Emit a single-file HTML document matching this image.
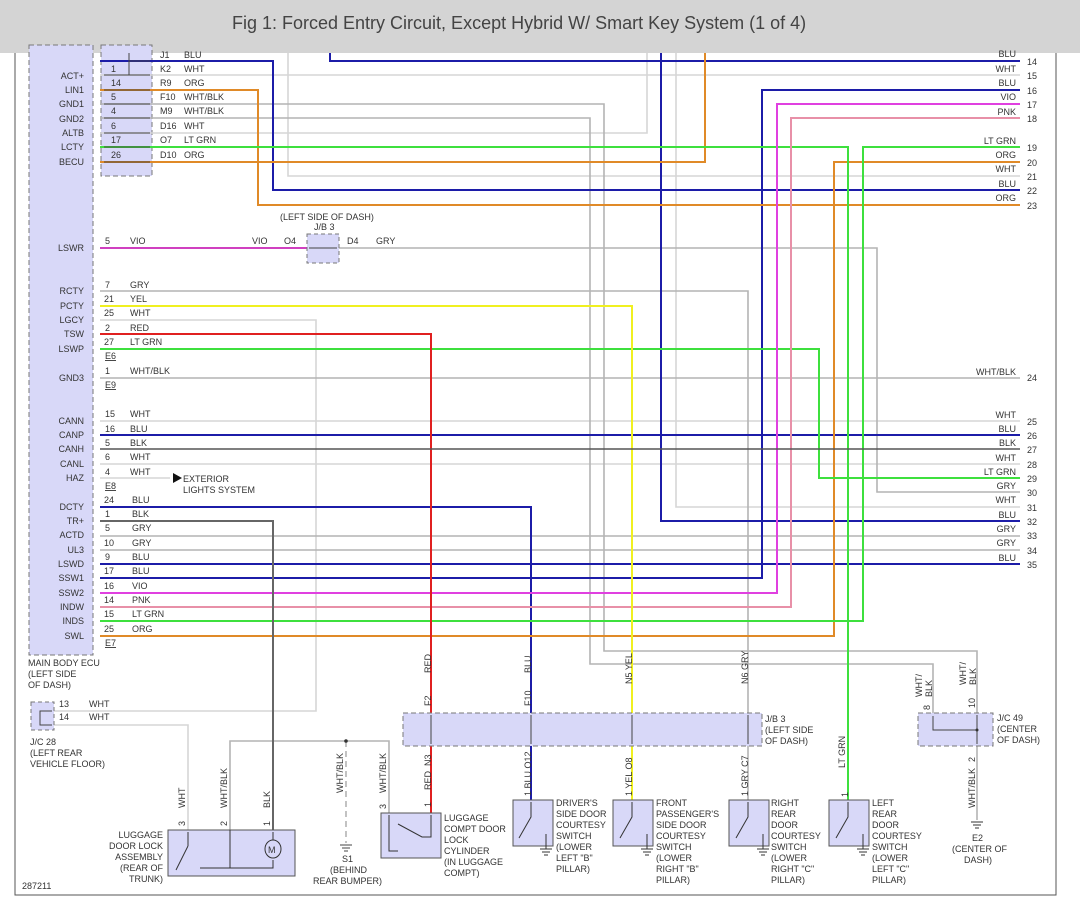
<!DOCTYPE html>
<html><head><meta charset="utf-8"><style>
html,body{margin:0;padding:0;background:#fff;}
svg{display:block;}
text{font-family:"Liberation Sans",sans-serif;font-size:9px;fill:#333;}
.t{font-size:18px;fill:#444;}
</style></head><body>
<svg width="1080" height="912" viewBox="0 0 1080 912" xmlns="http://www.w3.org/2000/svg">
<rect x="0" y="0" width="1080" height="53" fill="#d4d4d4"/>
<text x="232" y="29" class="t">Fig 1: Forced Entry Circuit, Except Hybrid W/ Smart Key System (1 of 4)</text>
<!-- border -->
<polyline points="15,53 15,895 1056,895 1056,53" fill="none" stroke="#555" stroke-width="1"/>
<!-- ECU box -->
<rect x="29" y="45" width="64" height="610" fill="#d8d8f8" stroke="#777" stroke-dasharray="5,3"/>
<rect x="101" y="45" width="51" height="131" fill="#d8d8f8" stroke="#777" stroke-dasharray="5,3"/>
<g fill="none" stroke-width="1.6">
<!-- white/light lines -->
<g stroke="#d6d6d6">
<polyline points="100,75 1020,75"/>
<polyline points="288,53 288,176 1020,176"/>
<polyline points="676,53 676,507 1020,507"/>
<polyline points="100,133 647,133 647,53"/>
<polyline points="100,320 316,320 316,711 54,711"/>
<polyline points="100,421 1020,421"/>
<polyline points="100,464 1020,464"/>
<polyline points="100,478 170,478"/>
<polyline points="54,725 188,725 188,830"/>
</g>
<g stroke="#b4b4b4">
<polyline points="100,104 604,104 604,651 977,651 977,713"/>
<polyline points="100,118 590,118 590,664 933,664 933,713"/>
<polyline points="339,248 877,248 877,492 1020,492"/>
<polyline points="100,291 748,291 748,713"/>
<polyline points="748,746 748,800"/>
<polyline points="100,378 1020,378"/>
<polyline points="100,536 1020,536"/>
<polyline points="100,550 1020,550"/>
<polyline points="230,830 230,741 389,741 389,813"/>
<polyline points="977,746 977,820"/>
<line x1="346" y1="741" x2="346" y2="843" stroke-dasharray="6,4"/>
</g>
<g stroke="#1c1ca8" stroke-width="2">
<polyline points="330,53 330,61 1020,61"/>
<polyline points="100,61 273,61 273,190 1020,190"/>
<polyline points="661,53 661,521 1020,521"/>
<polyline points="100,578 762,578 762,90 1020,90"/>
<polyline points="100,435 1020,435"/>
<polyline points="100,564 1020,564"/>
<polyline points="100,507 531,507 531,713"/>
<polyline points="531,746 531,800"/>
</g>
<g stroke="#e08a28" stroke-width="2">
<polyline points="100,90 258,90 258,205 1020,205"/>
<polyline points="100,162 705,162 705,53"/>
<polyline points="100,636 834,636 834,162 1020,162"/>
</g>
<g stroke="#3ee03e" stroke-width="2">
<polyline points="100,147 848,147 848,800"/>
<polyline points="100,621 863,621 863,147 1020,147"/>
<polyline points="100,349 819,349 819,478 1020,478"/>
</g>
<polyline points="100,593 777,593 777,104 1020,104" stroke="#e040e0" stroke-width="2"/>
<polyline points="100,607 791,607 791,118 1020,118" stroke="#e890a8" stroke-width="2"/>
<polyline points="100,248 307,248" stroke="#d040c0" stroke-width="2"/>
<polyline points="100,306 632,306 632,713" stroke="#f0f020" stroke-width="2"/>
<polyline points="632,746 632,800" stroke="#f0f020" stroke-width="2"/>
<polyline points="100,334 431,334 431,713" stroke="#e02020" stroke-width="2"/>
<polyline points="431,746 431,813" stroke="#e02020" stroke-width="2"/>
<polyline points="100,449 1020,449" stroke="#555" stroke-width="1.6"/>
<polyline points="100,521 273,521 273,830" stroke="#666" stroke-width="2"/>
</g>
<!-- connector arrows top -->
<g stroke="#444" stroke-width="1" fill="none">
<line x1="104" y1="75" x2="150" y2="75"/><line x1="104" y1="90" x2="150" y2="90"/><line x1="104" y1="104" x2="150" y2="104"/><line x1="104" y1="118" x2="150" y2="118"/><line x1="104" y1="133" x2="150" y2="133"/><line x1="104" y1="147" x2="150" y2="147"/><line x1="104" y1="162" x2="150" y2="162"/>
<line x1="129" y1="53" x2="129" y2="75"/><line x1="129" y1="61" x2="150" y2="61"/>
</g>
<!-- ECU labels -->
<g text-anchor="end">
<text x="84" y="79">ACT+</text><text x="84" y="93">LIN1</text><text x="84" y="107">GND1</text><text x="84" y="122">GND2</text><text x="84" y="136">ALTB</text><text x="84" y="150">LCTY</text><text x="84" y="165">BECU</text>
<text x="84" y="251">LSWR</text>
<text x="84" y="294">RCTY</text><text x="84" y="309">PCTY</text><text x="84" y="323">LGCY</text><text x="84" y="337">TSW</text><text x="84" y="352">LSWP</text><text x="84" y="381">GND3</text>
<text x="84" y="424">CANN</text><text x="84" y="438">CANP</text><text x="84" y="452">CANH</text><text x="84" y="467">CANL</text><text x="84" y="481">HAZ</text>
<text x="84" y="510">DCTY</text><text x="84" y="524">TR+</text><text x="84" y="538">ACTD</text><text x="84" y="553">UL3</text><text x="84" y="567">LSWD</text><text x="84" y="581">SSW1</text><text x="84" y="596">SSW2</text><text x="84" y="610">INDW</text><text x="84" y="624">INDS</text><text x="84" y="639">SWL</text>
</g>
<!-- top connector pins -->
<text x="111" y="72">1</text><text x="111" y="86">14</text><text x="111" y="100">5</text><text x="111" y="114">4</text><text x="111" y="129">6</text><text x="111" y="143">17</text><text x="111" y="158">26</text>
<text x="160" y="58">J1</text><text x="184" y="58">BLU</text>
<text x="160" y="72">K2</text><text x="184" y="72">WHT</text>
<text x="160" y="86">R9</text><text x="184" y="86">ORG</text>
<text x="160" y="100">F10</text><text x="184" y="100">WHT/BLK</text>
<text x="160" y="114">M9</text><text x="184" y="114">WHT/BLK</text>
<text x="160" y="129">D16</text><text x="184" y="129">WHT</text>
<text x="160" y="143">O7</text><text x="184" y="143">LT GRN</text>
<text x="160" y="158">D10</text><text x="184" y="158">ORG</text>
<!-- bottom section pins/colors -->
<g>
<text x="105" y="244">5</text><text x="130" y="244">VIO</text><text x="252" y="244">VIO</text><text x="284" y="244">O4</text><text x="347" y="244">D4</text><text x="376" y="244">GRY</text>
<text x="105" y="288">7</text><text x="130" y="288">GRY</text>
<text x="104" y="302">21</text><text x="130" y="302">YEL</text>
<text x="104" y="316">25</text><text x="130" y="316">WHT</text>
<text x="105" y="331">2</text><text x="130" y="331">RED</text>
<text x="104" y="345">27</text><text x="130" y="345">LT GRN</text>
<text x="105" y="359" text-decoration="underline">E6</text>
<text x="105" y="374">1</text><text x="130" y="374">WHT/BLK</text>
<text x="105" y="388" text-decoration="underline">E9</text>
<text x="105" y="417">15</text><text x="130" y="417">WHT</text>
<text x="105" y="432">16</text><text x="130" y="432">BLU</text>
<text x="105" y="446">5</text><text x="130" y="446">BLK</text>
<text x="105" y="460">6</text><text x="130" y="460">WHT</text>
<text x="105" y="475">4</text><text x="130" y="475">WHT</text>
<text x="105" y="489" text-decoration="underline">E8</text>
<text x="104" y="503">24</text><text x="132" y="503">BLU</text>
<text x="105" y="517">1</text><text x="132" y="517">BLK</text>
<text x="105" y="531">5</text><text x="132" y="531">GRY</text>
<text x="104" y="546">10</text><text x="132" y="546">GRY</text>
<text x="105" y="560">9</text><text x="132" y="560">BLU</text>
<text x="104" y="574">17</text><text x="132" y="574">BLU</text>
<text x="104" y="589">16</text><text x="132" y="589">VIO</text>
<text x="104" y="603">14</text><text x="132" y="603">PNK</text>
<text x="104" y="617">15</text><text x="132" y="617">LT GRN</text>
<text x="104" y="632">25</text><text x="132" y="632">ORG</text>
<text x="105" y="646" text-decoration="underline">E7</text>
</g>
<polygon points="173,473 182,478 173,483" fill="#111"/>
<text x="183" y="482">EXTERIOR</text><text x="183" y="493">LIGHTS SYSTEM</text>
<!-- small JB3 -->
<rect x="307" y="234" width="32" height="29" fill="#d8d8f8" stroke="#777" stroke-dasharray="4,3"/>
<line x1="309" y1="248" x2="337" y2="248" stroke="#444"/>
<text x="280" y="220">(LEFT SIDE OF DASH)</text><text x="314" y="230">J/B 3</text>
<!-- right labels -->
<g text-anchor="end">
<text x="1016" y="57">BLU</text><text x="1016" y="72">WHT</text><text x="1016" y="86">BLU</text><text x="1016" y="100">VIO</text><text x="1016" y="115">PNK</text>
<text x="1016" y="144">LT GRN</text><text x="1016" y="158">ORG</text><text x="1016" y="172">WHT</text><text x="1016" y="187">BLU</text><text x="1016" y="201">ORG</text>
<text x="1016" y="375">WHT/BLK</text>
<text x="1016" y="418">WHT</text><text x="1016" y="432">BLU</text><text x="1016" y="446">BLK</text><text x="1016" y="461">WHT</text><text x="1016" y="475">LT GRN</text><text x="1016" y="489">GRY</text><text x="1016" y="503">WHT</text><text x="1016" y="518">BLU</text><text x="1016" y="532">GRY</text><text x="1016" y="546">GRY</text><text x="1016" y="561">BLU</text>
</g>
<g>
<text x="1027" y="65">14</text><text x="1027" y="79">15</text><text x="1027" y="94">16</text><text x="1027" y="108">17</text><text x="1027" y="122">18</text>
<text x="1027" y="151">19</text><text x="1027" y="166">20</text><text x="1027" y="180">21</text><text x="1027" y="194">22</text><text x="1027" y="209">23</text>
<text x="1027" y="381">24</text>
<text x="1027" y="425">25</text><text x="1027" y="439">26</text><text x="1027" y="453">27</text><text x="1027" y="468">28</text><text x="1027" y="482">29</text><text x="1027" y="496">30</text><text x="1027" y="511">31</text><text x="1027" y="525">32</text><text x="1027" y="539">33</text><text x="1027" y="554">34</text><text x="1027" y="568">35</text>
</g>
<!-- ECU name -->
<text x="28" y="666">MAIN BODY ECU</text><text x="28" y="677">(LEFT SIDE</text><text x="28" y="688">OF DASH)</text>
<!-- JC28 -->
<rect x="31" y="702" width="23" height="28" fill="#d8d8f8" stroke="#777" stroke-dasharray="4,3"/>
<polyline points="52,711 40,711 40,725 52,725" fill="none" stroke="#444"/>
<text x="59" y="707">13</text><text x="89" y="707">WHT</text><text x="59" y="720">14</text><text x="89" y="720">WHT</text>
<text x="30" y="745">J/C 28</text><text x="30" y="756">(LEFT REAR</text><text x="30" y="767">VEHICLE FLOOR)</text>
<!-- JB3 big -->
<rect x="403" y="713" width="359" height="33" fill="#d8d8f8" stroke="#777" stroke-dasharray="5,3"/>
<g stroke="#444"><line x1="431" y1="715" x2="431" y2="744"/><line x1="531" y1="715" x2="531" y2="744"/><line x1="632" y1="715" x2="632" y2="744"/><line x1="748" y1="715" x2="748" y2="744"/></g>
<text x="765" y="722">J/B 3</text><text x="765" y="733">(LEFT SIDE</text><text x="765" y="744">OF DASH)</text>
<!-- JC49 -->
<rect x="918" y="713" width="75" height="33" fill="#d8d8f8" stroke="#777" stroke-dasharray="5,3"/>
<polyline points="933,716 933,730 977,730" fill="none" stroke="#444"/><line x1="977" y1="715" x2="977" y2="744" stroke="#444"/>
<circle cx="977" cy="730" r="1.5" fill="#333"/>
<text x="997" y="721">J/C 49</text><text x="997" y="732">(CENTER</text><text x="997" y="743">OF DASH)</text>
<!-- vertical labels -->
<g>
<text transform="translate(431,673) rotate(-90)">RED</text>
<text transform="translate(431,706) rotate(-90)">F2</text>
<text transform="translate(431,766) rotate(-90)">N3</text>
<text transform="translate(431,790) rotate(-90)">RED</text>
<text transform="translate(431,807) rotate(-90)">1</text>
<text transform="translate(531,673) rotate(-90)">BLU</text>
<text transform="translate(531,706) rotate(-90)">F10</text>
<text transform="translate(531,796) rotate(-90)">1 BLU O12</text>
<text transform="translate(632,684) rotate(-90)">N5  YEL</text>
<text transform="translate(632,796) rotate(-90)">1  YEL  O8</text>
<text transform="translate(748,684) rotate(-90)">N6  GRY</text>
<text transform="translate(748,796) rotate(-90)">1 GRY  C7</text>
<text transform="translate(845,768) rotate(-90)">LT GRN</text>
<text transform="translate(848,797) rotate(-90)">1</text>
<text transform="translate(185,808) rotate(-90)">WHT</text>
<text transform="translate(185,826) rotate(-90)">3</text>
<text transform="translate(227,808) rotate(-90)">WHT/BLK</text>
<text transform="translate(227,826) rotate(-90)">2</text>
<text transform="translate(270,808) rotate(-90)">BLK</text>
<text transform="translate(270,826) rotate(-90)">1</text>
<text transform="translate(343,793) rotate(-90)">WHT/BLK</text>
<text transform="translate(386,793) rotate(-90)">WHT/BLK</text>
<text transform="translate(386,809) rotate(-90)">3</text>
<text transform="translate(922,697) rotate(-90)">WHT/</text><text transform="translate(932,697) rotate(-90)">BLK</text>
<text transform="translate(930,710) rotate(-90)">8</text>
<text transform="translate(966,685) rotate(-90)">WHT/</text><text transform="translate(976,685) rotate(-90)">BLK</text>
<text transform="translate(975,708) rotate(-90)">10</text>
<text transform="translate(975,762) rotate(-90)">2</text>
<text transform="translate(975,808) rotate(-90)">WHT/BLK</text>
</g>
<!-- luggage door lock assembly -->
<rect x="168" y="830" width="127" height="46" fill="#d8d8f8" stroke="#555"/>
<g stroke="#333" fill="none">
<line x1="188" y1="832" x2="188" y2="846"/><line x1="188" y1="846" x2="176" y2="870"/>
<line x1="230" y1="830" x2="230" y2="868"/><polyline points="200,868 273,868 273,860"/>
<line x1="273" y1="832" x2="273" y2="840"/>
<ellipse cx="273" cy="849" rx="8" ry="9" fill="#d8d8f8"/>
</g>
<text x="268" y="853" font-size="11">M</text>
<g text-anchor="end"><text x="163" y="838">LUGGAGE</text><text x="163" y="849">DOOR LOCK</text><text x="163" y="860">ASSEMBLY</text><text x="163" y="871">(REAR OF</text><text x="163" y="882">TRUNK)</text></g>
<!-- ground S1 -->
<g stroke="#444"><line x1="340" y1="845" x2="352" y2="845"/><line x1="342" y1="848" x2="350" y2="848"/><line x1="344" y1="851" x2="348" y2="851"/></g>
<circle cx="346" cy="741" r="1.8" fill="#333"/>
<text x="342" y="862">S1</text><text x="330" y="873">(BEHIND</text><text x="313" y="884">REAR BUMPER)</text>
<!-- cylinder -->
<rect x="381" y="813" width="60" height="45" fill="#d8d8f8" stroke="#555"/>
<polyline points="389,815 389,851 398,851" fill="none" stroke="#333"/>
<polyline points="398,824 422,837 431,837 431,815" fill="none" stroke="#333"/>
<text x="444" y="821">LUGGAGE</text><text x="444" y="832">COMPT DOOR</text><text x="444" y="843">LOCK</text><text x="444" y="854">CYLINDER</text><text x="444" y="865">(IN LUGGAGE</text><text x="444" y="876">COMPT)</text>
<!-- courtesy switches -->
<g>
<rect x="513" y="800" width="40" height="46" fill="#d8d8f8" stroke="#555"/>
<rect x="613" y="800" width="40" height="46" fill="#d8d8f8" stroke="#555"/>
<rect x="729" y="800" width="40" height="46" fill="#d8d8f8" stroke="#555"/>
<rect x="829" y="800" width="40" height="46" fill="#d8d8f8" stroke="#555"/>
</g>
<g stroke="#333" fill="none">
<polyline points="531,802 531,817 519,838"/><polyline points="546,834 546,849"/>
<polyline points="632,802 632,817 620,838"/><polyline points="647,834 647,849"/>
<polyline points="748,802 748,817 736,838"/><polyline points="763,834 763,849"/>
<polyline points="848,802 848,817 836,838"/><polyline points="863,834 863,849"/>
<path d="M540 849h12M542 852h8M544 855h4M641 849h12M643 852h8M645 855h4M757 849h12M759 852h8M761 855h4M857 849h12M859 852h8M861 855h4M971 822h12M973 825h8M975 828h4"/>
</g>
<text x="556" y="806">DRIVER'S</text><text x="556" y="817">SIDE DOOR</text><text x="556" y="828">COURTESY</text><text x="556" y="839">SWITCH</text><text x="556" y="850">(LOWER</text><text x="556" y="861">LEFT "B"</text><text x="556" y="872">PILLAR)</text>
<text x="656" y="806">FRONT</text><text x="656" y="817">PASSENGER'S</text><text x="656" y="828">SIDE DOOR</text><text x="656" y="839">COURTESY</text><text x="656" y="850">SWITCH</text><text x="656" y="861">(LOWER</text><text x="656" y="872">RIGHT "B"</text><text x="656" y="883">PILLAR)</text>
<text x="771" y="806">RIGHT</text><text x="771" y="817">REAR</text><text x="771" y="828">DOOR</text><text x="771" y="839">COURTESY</text><text x="771" y="850">SWITCH</text><text x="771" y="861">(LOWER</text><text x="771" y="872">RIGHT "C"</text><text x="771" y="883">PILLAR)</text>
<text x="872" y="806">LEFT</text><text x="872" y="817">REAR</text><text x="872" y="828">DOOR</text><text x="872" y="839">COURTESY</text><text x="872" y="850">SWITCH</text><text x="872" y="861">(LOWER</text><text x="872" y="872">LEFT "C"</text><text x="872" y="883">PILLAR)</text>
<text x="972" y="841">E2</text><text x="952" y="852">(CENTER OF</text><text x="964" y="863">DASH)</text>
<text x="22" y="889">287211</text>
</svg>
</body></html>
